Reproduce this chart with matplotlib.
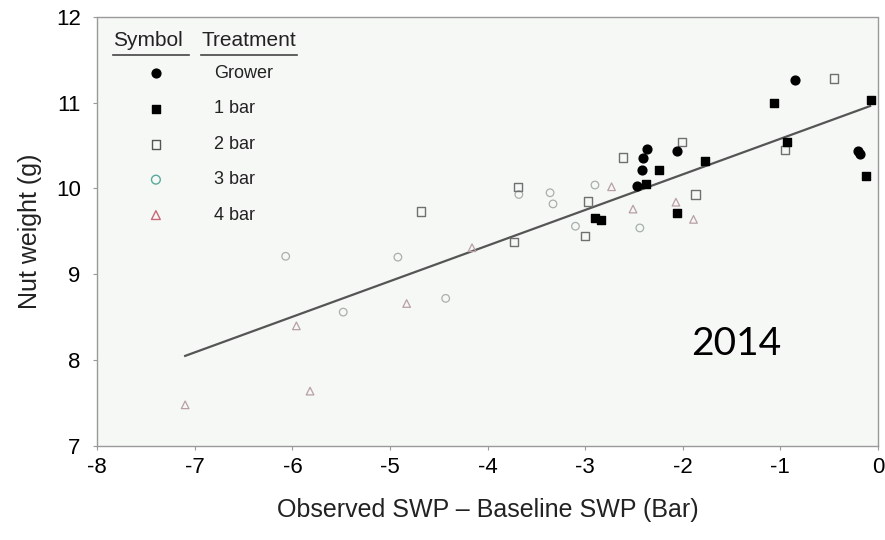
import matplotlib
import matplotlib.pyplot as plt
import numpy as np

# data
grower_x = [-0.85, -0.20, -0.18, -2.37, -2.06, -2.41, -2.42, -2.47]
grower_y = [11.26, 10.44, 10.40, 10.46, 10.44, 10.36, 10.22, 10.03]

bar1_x = [-1.07, -0.07, -0.93, -0.12, -2.38, -2.24, -1.77, -2.06, -2.90, -2.84]
bar1_y = [11.00, 11.03, 10.54, 10.14, 10.05, 10.21, 10.32, 9.72, 9.66, 9.63]

bar2_x = [-0.45, -0.95, -2.01, -2.61, -1.87, -2.97, -3.00, -3.69, -3.73, -4.68]
bar2_y = [11.28, 10.45, 10.54, 10.36, 9.93, 9.85, 9.45, 10.02, 9.38, 9.73]

bar3_x = [-3.68, -3.36, -3.33, -2.90, -3.10, -2.44, -4.92, -6.07, -4.43, -5.48]
bar3_y = [9.93, 9.95, 9.82, 10.04, 9.56, 9.54, 9.20, 9.21, 8.72, 8.56]

bar4_x = [-2.73, -2.51, -2.07, -1.89, -4.16, -4.83, -5.96, -5.82, -7.10]
bar4_y = [10.02, 9.76, 9.84, 9.64, 9.31, 8.66, 8.40, 7.64, 7.48]

fit_x = [-7.10, -0.08]
fit_y = [8.05, 10.96]

treatments = ['Grower', '1 bar', '2 bar', '3 bar', '4 bar']

plt.rcParams['font.family'] = ['Liberation Sans', 'DejaVu Sans']
plt.rcParams['axes.unicode_minus'] = False

fig = plt.figure(figsize=(8.85, 5.4), dpi=100)
ax = fig.add_axes([0.110, 0.174, 0.882, 0.795])
ax.set_facecolor('#f6f8f6')

ax.plot(fit_x, fit_y, color='#555555', lw=1.6, zorder=2)

ax.scatter(bar4_x, bar4_y, marker='^', s=30, facecolors='none', edgecolors='#b8a0a4', lw=0.9, zorder=3)
ax.scatter(bar3_x, bar3_y, marker='o', s=30, facecolors='none', edgecolors='#a8b0ac', lw=0.9, zorder=3)
ax.scatter(bar2_x, bar2_y, marker='s', s=36, facecolors='none', edgecolors='#707070', lw=1.0, zorder=3)
ax.scatter(bar1_x, bar1_y, marker='s', s=40, color='black', zorder=4)
ax.scatter(grower_x, grower_y, marker='o', s=40, color='black', zorder=4)

ax.set_xlim(-8, 0)
ax.set_ylim(7, 12)
ax.set_xticks(np.arange(-8, 1, 1))
ax.set_yticks(np.arange(7, 13, 1))
ax.tick_params(labelsize=16, length=3, color='#999999')
ax.tick_params(axis='x', pad=5)
ax.tick_params(axis='y', pad=9)
for s in ax.spines.values():
    s.set_color('#9a9a9a')
    s.set_linestyle((0, (2, 1)))
    s.set_linewidth(1.0)

ax.set_xlabel('Observed SWP – Baseline SWP (Bar)', fontsize=18, labelpad=14, color='#222222')
ax.set_ylabel('Nut weight (g)', fontsize=18, labelpad=10, color='#222222')

# hand-made legend
ax.text(0.020, 0.945, 'Symbol', transform=ax.transAxes, fontsize=15, va='center', ha='left', color='#222222')
ax.text(0.133, 0.945, 'Treatment', transform=ax.transAxes, fontsize=15, va='center', ha='left', color='#222222')
ax.plot([0.020, 0.117], [0.910, 0.910], transform=ax.transAxes, color='#444444', lw=1.2)
ax.plot([0.133, 0.256], [0.910, 0.910], transform=ax.transAxes, color='#444444', lw=1.2)

leg_markers = ['o', 's', 's', 'o', '^']
leg_face = ['black', 'black', 'none', 'none', 'none']
leg_edge = ['black', 'black', '#555555', '#5aaa9c', '#c86878']
for i, name in enumerate(treatments):
    yy = 0.868 - i * 0.0825
    ax.scatter([0.075], [yy], transform=ax.transAxes, marker=leg_markers[i], s=40,
               facecolors=leg_face[i], edgecolors=leg_edge[i], lw=1.0, zorder=5)
    ax.text(0.150, yy, name, transform=ax.transAxes, fontsize=13, va='center', ha='left', color='#222222')

ax.text(0.818, 0.237, '2014', transform=ax.transAxes, fontsize=28, ha='center', va='center',
        family=['Lato', 'DejaVu Sans'])

fig.savefig('out.png', dpi=100)
